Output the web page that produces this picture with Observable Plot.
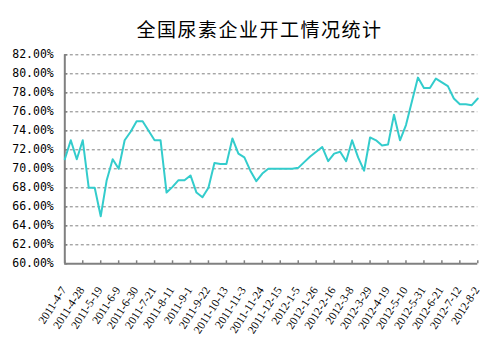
<!DOCTYPE html>
<html>
<head>
<meta charset="utf-8">
<script src="https://cdn.jsdelivr.net/npm/d3@7"></script>
<script src="https://cdn.jsdelivr.net/npm/@observablehq/plot@0.6"></script>
<style>
  html, body { margin: 0; padding: 0; background: #fff; }
  #wrap { width: 503px; height: 351px; overflow: hidden; }
  #title { box-sizing: border-box; height: 44px; padding-top: 19px; line-height: 19px; text-align: center;
           font-family: "Noto Sans CJK SC", sans-serif; font-size: 19px; letter-spacing: 1.5px; color: #000; padding-left: 16px; }
</style>
</head>
<body>
<div id="wrap">
  <div id="title">全国尿素企业开工情况统计</div>
  <div id="chart"></div>
</div>
<script>
const title = "全国尿素企业开工情况统计";
const dates = [
  "2011-4-7","2011-4-14","2011-4-21","2011-4-28","2011-5-5","2011-5-12","2011-5-19","2011-5-26",
  "2011-6-2","2011-6-9","2011-6-16","2011-6-23","2011-6-30","2011-7-7","2011-7-14","2011-7-21","2011-7-28",
  "2011-8-4","2011-8-11","2011-8-18","2011-8-25","2011-9-1","2011-9-8","2011-9-15","2011-9-22","2011-9-29",
  "2011-10-6","2011-10-13","2011-10-20","2011-10-27","2011-11-3","2011-11-10","2011-11-17","2011-11-24",
  "2011-12-1","2011-12-8","2011-12-15","2011-12-22","2011-12-29",
  "2012-1-5","2012-1-12","2012-1-19","2012-1-26","2012-2-2","2012-2-9","2012-2-16","2012-2-23",
  "2012-3-1","2012-3-8","2012-3-15","2012-3-22","2012-3-29","2012-4-5","2012-4-12","2012-4-19","2012-4-26",
  "2012-5-3","2012-5-10","2012-5-17","2012-5-24","2012-5-31","2012-6-7","2012-6-14","2012-6-21","2012-6-28",
  "2012-7-5","2012-7-12","2012-7-19","2012-7-26","2012-8-2"
];
const rates = [
  71.0, 73.0, 71.0, 73.0, 68.0, 68.0, 65.0, 68.8, 71.0, 70.0,
  73.0, 73.9, 75.0, 75.0, 74.0, 73.0, 73.0, 67.5, 68.1, 68.8,
  68.8, 69.3, 67.5, 67.0, 68.0, 70.6, 70.5, 70.5, 73.2, 71.6,
  71.2, 69.8, 68.7, 69.5, 70.0, 70.0, 70.0, 70.0, 70.0, 70.1,
  70.7, 71.3, 71.8, 72.3, 70.8, 71.6, 71.8, 70.8, 73.0, 71.2,
  69.8, 73.3, 73.0, 72.45, 72.55, 75.7, 73.0, 74.6, 77.1, 79.6,
  78.5, 78.5, 79.5, 79.1, 78.7, 77.4, 76.8, 76.8, 76.7, 77.4
];
const xTickLabels = [
  "2011-4-7","2011-4-28","2011-5-19","2011-6-9","2011-6-30","2011-7-21","2011-8-11","2011-9-1",
  "2011-9-22","2011-10-13","2011-11-3","2011-11-24","2011-12-15","2012-1-5","2012-1-26","2012-2-16",
  "2012-3-8","2012-3-29","2012-4-19","2012-5-10","2012-5-31","2012-6-21","2012-7-12","2012-8-2"
];
const yTicks = [60, 62, 64, 66, 68, 70, 72, 74, 76, 78, 80, 82];

const data = dates.map((d, i) => ({date: d, rate: rates[i]}));
const gray = "#808080";

const chart = Plot.plot({
  width: 503,
  height: 307,
  marginTop: 10.3,
  marginBottom: 87.7,
  marginLeft: 64.3,
  marginRight: 25.7,
  style: {background: "#fff", overflow: "visible"},
  x: {type: "point", domain: dates, padding: 0},
  y: {domain: [60, 82]},
  marks: [
    Plot.gridY(yTicks.slice(1), {stroke: gray, strokeOpacity: 1, strokeWidth: 1, strokeDasharray: "3,2.5"}),
    Plot.axisY(yTicks, {anchor: "left", tickSize: 0, tickPadding: 11, tickFormat: d => d.toFixed(2) + "%",
      fontFamily: "DejaVu Sans Mono", fontSize: 11.5, fill: "#000", label: null}),
    Plot.axisY(yTicks, {anchor: "left", tickSize: 3, text: null, dx: 3, stroke: gray, strokeWidth: 1.5, label: null}),
    Plot.axisX(xTickLabels, {anchor: "bottom", tickSize: 3, text: null, dy: -3, stroke: gray, strokeWidth: 1.5, label: null}),
    Plot.axisX(xTickLabels, {anchor: "bottom", tickSize: 0, tickPadding: 17, tickRotate: -57, dy: 7, dx: -1,
      fontFamily: "Liberation Serif", fontSize: 11.5, fill: "#000", label: null}),
    Plot.ruleY([60], {stroke: gray, strokeWidth: 2}),
    Plot.ruleX([dates[0]], {stroke: gray, strokeWidth: 2}),
    Plot.lineY(data, {x: "date", y: "rate", stroke: "#33CCCC", strokeWidth: 2})
  ]
});
document.getElementById("chart").appendChild(chart);
</script>
</body>
</html>
